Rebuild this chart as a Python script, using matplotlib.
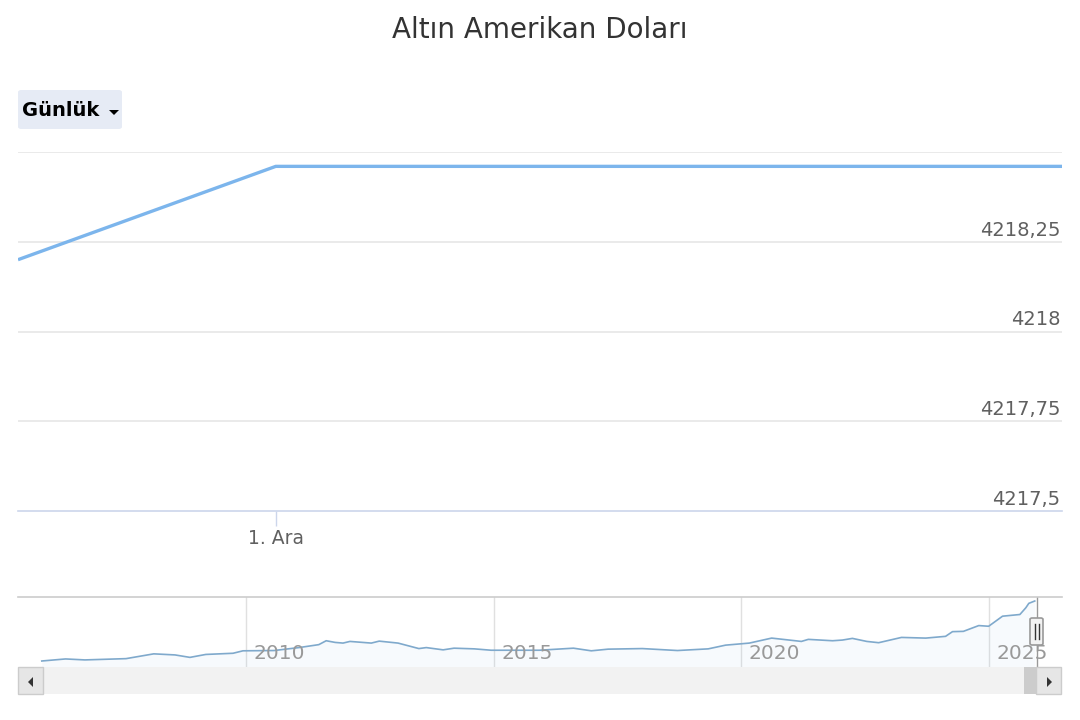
import matplotlib.pyplot as plt
from matplotlib.patches import Rectangle, FancyBboxPatch, Polygon
import numpy as np

# main chart (days relative to 1 Dec)
main_days = [-1.0, 0.0, 3.05]
main_vals = [4218.20, 4218.46, 4218.46]
y_ticks = [4217.5, 4217.75, 4218.0, 4218.25, 4218.5]
y_labels = ["4217,5", "4217,75", "4218", "4218,25", ""]

# navigator (decimal years, USD)
nav_years = [2005.88, 2006.36, 2006.75, 2007.58, 2008.14, 2008.57, 2008.87, 2009.19,
             2009.74, 2009.94, 2010.57, 2011.07, 2011.47, 2011.62, 2011.80, 2011.96,
             2012.10, 2012.53, 2012.69, 2013.07, 2013.49, 2013.64, 2013.98, 2014.20,
             2014.61, 2014.95, 2015.92, 2016.61, 2016.97, 2017.31, 2018.00, 2018.71,
             2019.33, 2019.68, 2020.16, 2020.61, 2021.21, 2021.35, 2021.84, 2022.04,
             2022.24, 2022.53, 2022.77, 2023.23, 2023.72, 2024.12, 2024.26, 2024.48,
             2024.79, 2024.99, 2025.27, 2025.62, 2025.74, 2025.80, 2025.92]
nav_vals = [500, 627, 567, 646, 943, 876, 724, 906,
            979, 1131, 1149, 1331, 1513, 1755, 1652, 1610,
            1713, 1610, 1731, 1610, 1270, 1331, 1191, 1294,
            1252, 1167, 1167, 1294, 1131, 1234, 1270, 1149,
            1252, 1482, 1610, 1919, 1713, 1840, 1755, 1798,
            1901, 1713, 1634, 1961, 1919, 2028, 2319, 2337,
            2695, 2653, 3277, 3381, 3799, 4072, 4218]
nav_ticks = [2010, 2015, 2020, 2025]

W, H = 1080, 720
fig = plt.figure(figsize=(W / 100, H / 100), dpi=100)
fig.patch.set_facecolor("white")


def fx(px):
    return px / W


def fy(py):
    return 1 - py / H


line_col = "#7cb5ec"
grid_col = "#e6e6e6"
text_col = "#606060"

fig.text(0.5, fy(30), "Altın Amerikan Doları", ha="center", va="center",
         fontsize=20, color="#333333")

# range selector button
fig.patches.append(FancyBboxPatch((fx(18), fy(129)), fx(104), 39 / H,
                                  boxstyle="round,pad=0,rounding_size=0.003",
                                  transform=fig.transFigure, facecolor="#e6ebf5",
                                  edgecolor="none"))
fig.text(fx(22), fy(110), "Günlük", ha="left", va="center", fontsize=14,
         fontweight="bold", color="black")
fig.patches.append(Polygon([(fx(109), fy(110)), (fx(119), fy(110)), (fx(114), fy(115))],
                           closed=True, transform=fig.transFigure, facecolor="black"))

# main axes
ax = fig.add_axes([fx(18), fy(511), fx(1044), 359 / H])
ax.plot(main_days, main_vals, color=line_col, linewidth=2.4, solid_capstyle="butt")
ax.set_xlim(main_days[0], main_days[-1])
ax.set_ylim(y_ticks[0], y_ticks[-1])
for v in y_ticks[1:]:
    ax.axhline(v, color=grid_col, linewidth=1.2, zorder=0)
for v, lab in zip(y_ticks, y_labels):
    ax.annotate(lab, (1, v), xycoords=("axes fraction", "data"), xytext=(-1, 1.5),
                textcoords="offset points", ha="right", va="bottom",
                fontsize=14, color=text_col)
for s in ["top", "right", "left"]:
    ax.spines[s].set_visible(False)
ax.spines["bottom"].set_color("#ccd6eb")
ax.spines["bottom"].set_linewidth(1.2)
ax.set_yticks([])
ax.set_xticks([0.0])
ax.set_xticklabels(["1. Ara"], fontsize=13.5, color=text_col)
ax.tick_params(axis="x", length=11, color="#ccd6eb", width=1, pad=2)
ax.patch.set_alpha(0)

# navigator
nav = fig.add_axes([fx(18), fy(667), fx(1044), 70 / H])
nav.fill_between(nav_years, nav_vals, 0, color=line_col, alpha=0.06, linewidth=0)
nav.plot(nav_years, nav_vals, color="#7fa9cc", linewidth=1.2)
nav.set_xlim(2005.4, 2026.47)
nav.set_ylim(128, 4466)
for t in nav_ticks:
    nav.axvline(t, color="#e0e0e0", linewidth=1, zorder=0)
    nav.text(t + 0.15, 400, str(t), ha="left", va="bottom", fontsize=14.5,
             color="#999999")
nav.axvline(nav_years[-1] + 0.05, color="#999999", linewidth=1)
for s in ["right", "left", "bottom"]:
    nav.spines[s].set_visible(False)
nav.spines["top"].set_color("#cccccc")
nav.spines["top"].set_linewidth(1.2)
nav.set_xticks([])
nav.set_yticks([])

# navigator handle
fig.patches.append(FancyBboxPatch((fx(1030), fy(645)), fx(13), 27 / H,
                                  boxstyle="round,pad=0,rounding_size=0.002",
                                  transform=fig.transFigure, facecolor="#f2f2f2",
                                  edgecolor="#999999", linewidth=1.2))
for px in (1034.5, 1038.5):
    fig.lines.append(plt.Line2D([fx(px), fx(px)], [fy(639), fy(624)],
                                transform=fig.transFigure, color="#333333", linewidth=1))

# scrollbar
fig.patches.append(Rectangle((fx(18), fy(694)), fx(1044), 27 / H,
                             transform=fig.transFigure, facecolor="#f2f2f2",
                             edgecolor="none"))
fig.patches.append(Rectangle((fx(1024), fy(694)), fx(14), 27 / H,
                             transform=fig.transFigure, facecolor="#cccccc",
                             edgecolor="none"))
for x0 in (18, 1036):
    fig.patches.append(Rectangle((fx(x0), fy(694)), fx(25), 27 / H,
                                 transform=fig.transFigure, facecolor="#e6e6e6",
                                 edgecolor="#cccccc", linewidth=1))
fig.patches.append(Polygon([(fx(33), fy(677)), (fx(33), fy(687)), (fx(28), fy(682))],
                           closed=True, transform=fig.transFigure, facecolor="#333333"))
fig.patches.append(Polygon([(fx(1047), fy(677)), (fx(1047), fy(687)), (fx(1052), fy(682))],
                           closed=True, transform=fig.transFigure, facecolor="#333333"))

fig.savefig("out.png", dpi=100)
